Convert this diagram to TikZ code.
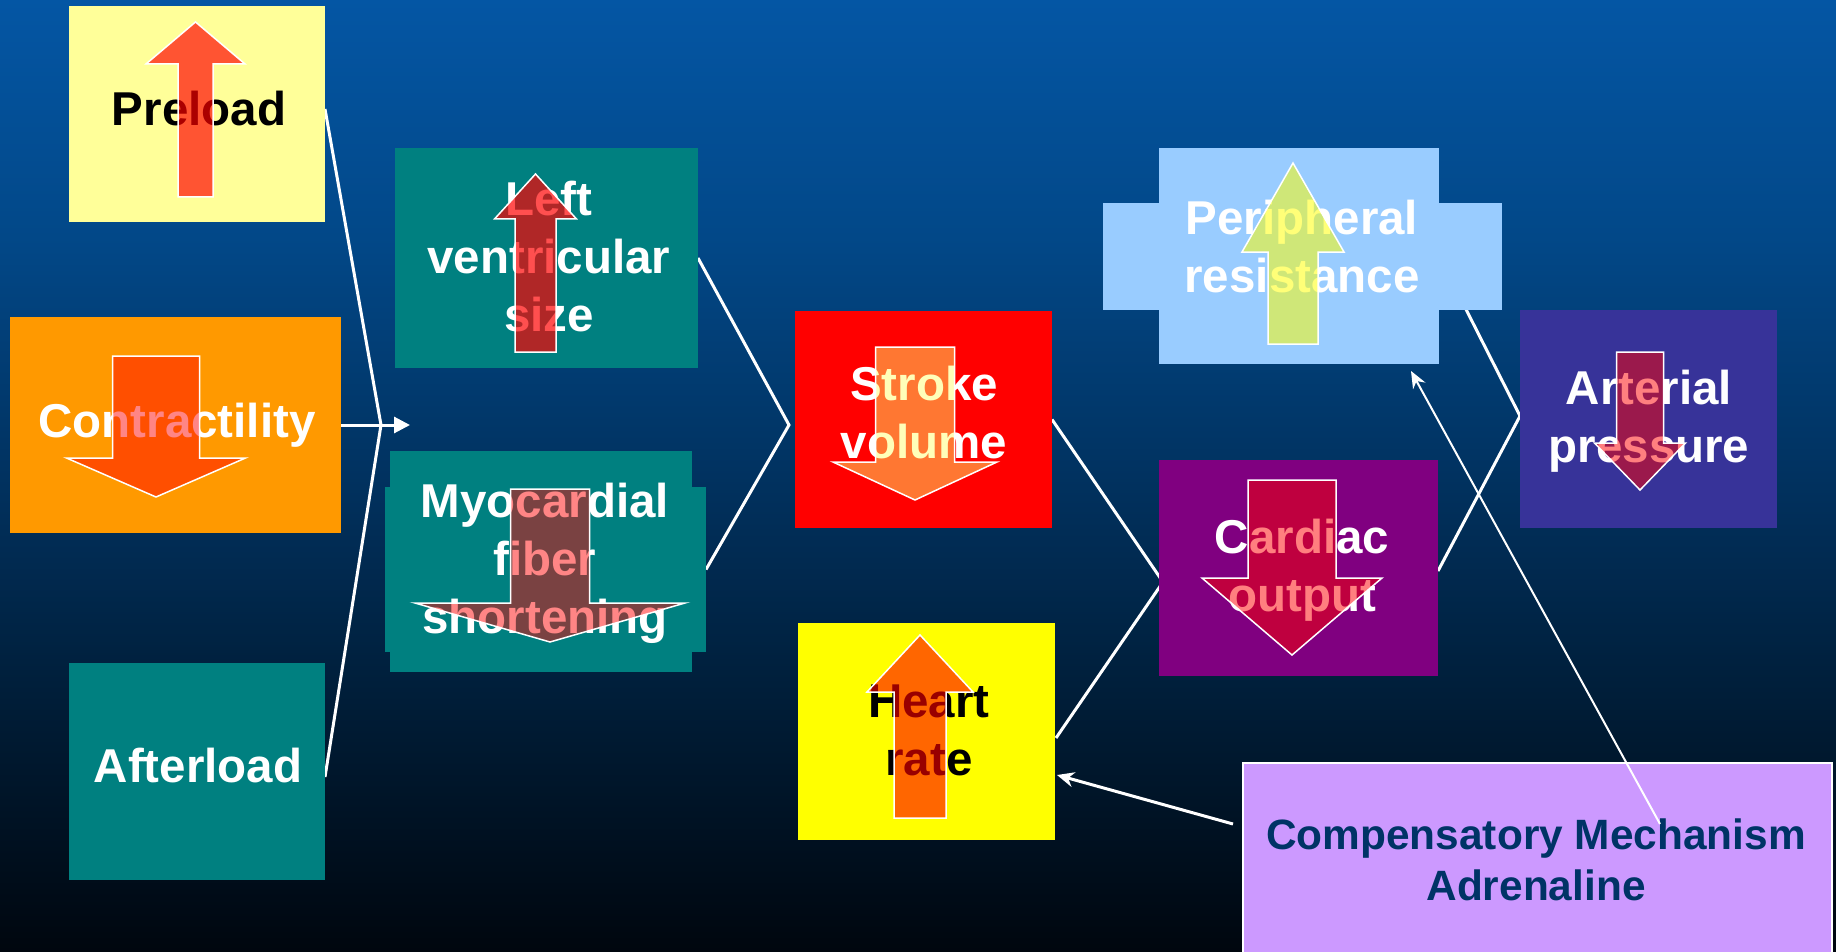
\documentclass[tikz,border=0pt]{standalone}
\usepackage{fontspec}
\setmainfont{Liberation Sans}
\usetikzlibrary{arrows.meta,calc}
\definecolor{cPre}{HTML}{FFFF99}
\definecolor{cCon}{HTML}{FF9900}
\definecolor{cTeal}{HTML}{008080}
\definecolor{cSV}{HTML}{FF0000}
\definecolor{cHR}{HTML}{FFFF00}
\definecolor{cPer}{HTML}{99CCFF}
\definecolor{cCO}{HTML}{800080}
\definecolor{cAP}{HTML}{373399}
\definecolor{cComp}{HTML}{CC99FF}
\definecolor{cCompT}{HTML}{003366}
\definecolor{aRed}{HTML}{FF0000}
\definecolor{aYel}{HTML}{FFFF00}
\definecolor{aSV}{RGB}{255,253,108}
\pgfdeclareverticalshading{bgshade}{100bp}{rgb(0bp)=(0,0.024,0.055); rgb(25bp)=(0,0.024,0.055); rgb(37.5bp)=(0,0.11,0.21); rgb(50bp)=(0.004,0.196,0.376); rgb(62.5bp)=(0.008,0.282,0.533); rgb(75bp)=(0.016,0.337,0.643); rgb(100bp)=(0.016,0.337,0.643)}
\newcommand\blkarr[7]{%
  \path[#1] ({#2-#7},#5) -- ({#2-#7},#4) -- ({#2-#6},#4) -- (#2,#3) -- ({#2+#6},#4) -- ({#2+#7},#4) -- ({#2+#7},#5) -- cycle;}
\begin{document}
\begin{tikzpicture}[x=1pt,y=-1pt,
  box/.style={inner sep=0pt, outer sep=0pt, draw=none},
  lbl/.style={inner sep=0pt, outer sep=0pt, anchor=base, text=white, font=\fontsize{47.5}{58}\selectfont\bfseries},
  conn/.style={draw=white, line width=3pt},
  blk/.style={draw=white, line width=1.5pt, fill opacity=#1}]
\useasboundingbox (0,0) rectangle (1836,952);
\shade[shading=bgshade] (0,0) rectangle (1836,952);

% coordinates for connector vertices and free ends
\coordinate (v1) at (381,425);
\coordinate (v2) at (789,425);
\coordinate (v3) at (1163,582);
\coordinate (v4) at (1520,416);
\coordinate (h1) at (410,425);
\coordinate (f0) at (1233,824);
\coordinate (g0) at (1660,824);

% boxes (placed first so anchors exist; connectors drawn behind on a layer-free order below)
\begin{scope}
\path (197,114) node[box, minimum width=256pt, minimum height=216pt] (pre) {};
\path (175.5,425) node[box, minimum width=331pt, minimum height=216pt] (con) {};
\path (197,771.5) node[box, minimum width=256pt, minimum height=217pt] (aft) {};
\path (546.5,258) node[box, minimum width=303pt, minimum height=220pt] (lv) {};
\path (541,561.5) node[box, minimum width=302pt, minimum height=221pt] (myo) {};
\path (545.5,569.5) node[box, minimum width=321pt, minimum height=165pt] (myoW) {};
\path (923.5,419.5) node[box, minimum width=257pt, minimum height=217pt] (sv) {};
\path (926.5,731.5) node[box, minimum width=257pt, minimum height=217pt] (hr) {};
\path (1299,256) node[box, minimum width=280pt, minimum height=216pt] (per) {};
\path (1302.5,256.5) node[box, minimum width=399pt, minimum height=107pt] (perW) {};
\path (1298.5,568) node[box, minimum width=279pt, minimum height=216pt] (co) {};
\path (1648.5,419) node[box, minimum width=257pt, minimum height=218pt] (ap) {};
\path (1537.5,861.5) node[box, minimum width=589pt, minimum height=197pt] (comp) {};
\end{scope}

% connectors behind boxes
\draw[conn] ($(pre.east)+(0,-5)$) -- (v1) -- ($(aft.east)+(0,5.5)$);
\draw[conn] (lv.east) -- (v2) -- (myoW.east);
\draw[conn] (sv.east) -- (v3) -- ($(hr.east)+(1,6.5)$);
\draw[conn] (per.east) -- (v4) -- ($(co.east)+(0,3)$);
\draw[conn, -{Triangle[length=16pt,width=16pt]}] (con.east) -- (h1);
\draw[conn, -{Stealth[length=17pt,width=15pt]}] (f0) -- ($(hr.east)+(2,43.5)$);

% box fills
\fill[cPre] (pre.north west) rectangle (pre.south east);
\fill[cCon] (con.north west) rectangle (con.south east);
\fill[cTeal] (aft.north west) rectangle (aft.south east);
\fill[cTeal] (lv.north west) rectangle (lv.south east);
\fill[cTeal] (myo.north west) rectangle (myo.south east);
\fill[cTeal] (myoW.north west) rectangle (myoW.south east);
\fill[cSV] (sv.north west) rectangle (sv.south east);
\fill[cHR] (hr.north west) rectangle (hr.south east);
\fill[cPer] (per.north west) rectangle (per.south east);
\fill[cPer] (perW.north west) rectangle (perW.south east);
\fill[cCO] (co.north west) rectangle (co.south east);
\fill[cAP] (ap.north west) rectangle (ap.south east);
\filldraw[fill=cComp, draw=white, line width=2pt] (comp.north west) rectangle (comp.south east);

% texts
\node[lbl, text=black] (preT) at (199,126) {Preload};
\node[lbl] (conT) at (177,437) {Contractility};
\node[lbl] (aftT) at (198,782) {Afterload};
\node[lbl] (lvT) at (549,215) {\begin{tabular}[t]{@{}c@{}}Left\\ventricular\\size\end{tabular}};
\node[lbl] (myoT) at (545,517) {\begin{tabular}[t]{@{}c@{}}Myocardial\\fiber\\shortening\end{tabular}};
\node[lbl] (svT) at (924,400) {\begin{tabular}[t]{@{}c@{}}Stroke\\volume\end{tabular}};
\node[lbl, text=black] (hrT) at (929,717) {\begin{tabular}[t]{@{}c@{}}Heart\\rate\end{tabular}};
\node[lbl] (perT) at (1302,234) {\begin{tabular}[t]{@{}c@{}}Peripheral\\resistance\end{tabular}};
\node[lbl] (coT) at (1302,553) {\begin{tabular}[t]{@{}c@{}}Cardiac\\output\end{tabular}};
\node[lbl] (apT) at (1649,404) {\begin{tabular}[t]{@{}c@{}}Arterial\\pressure\end{tabular}};
\node[lbl, text=cCompT, font=\fontsize{42.4}{51.5}\selectfont\bfseries] (compT) at (1536,849) {\begin{tabular}[t]{@{}c@{}}Compensatory Mechanism\\Adrenaline\end{tabular}};

% block arrows (semi-transparent, over the texts)
\blkarr{blk=0.67, fill=aRed}{195.5}{22}{64}{197}{49.5}{17.5}
\blkarr{blk=0.48, fill=aRed}{156}{497}{458}{356}{89.5}{43.5}
\blkarr{blk=0.69, fill=aRed}{535.5}{174}{219}{352}{41}{20.5}
\blkarr{blk=0.48, fill=aRed}{550}{642}{603}{489}{135}{39.5}
\blkarr{blk=0.47, fill=aSV}{915}{500}{462}{347}{82}{39.5}
\blkarr{blk=0.6, fill=aRed}{920}{635}{692}{818}{53}{26}
\blkarr{blk=0.53, fill=aYel}{1293}{163}{252}{344}{51}{25}
\blkarr{blk=0.5, fill=aRed}{1292}{655}{578}{480}{90}{44}
\blkarr{blk=0.5, fill=aRed}{1640}{490}{443}{352}{45.5}{23.5}

% thin arrow over the compensatory box
\draw[draw=white, line width=2pt, -{Stealth[length=17pt,width=14pt]}] (g0) -- ($(per.south)+(112,7)$);
\end{tikzpicture}
\end{document}
